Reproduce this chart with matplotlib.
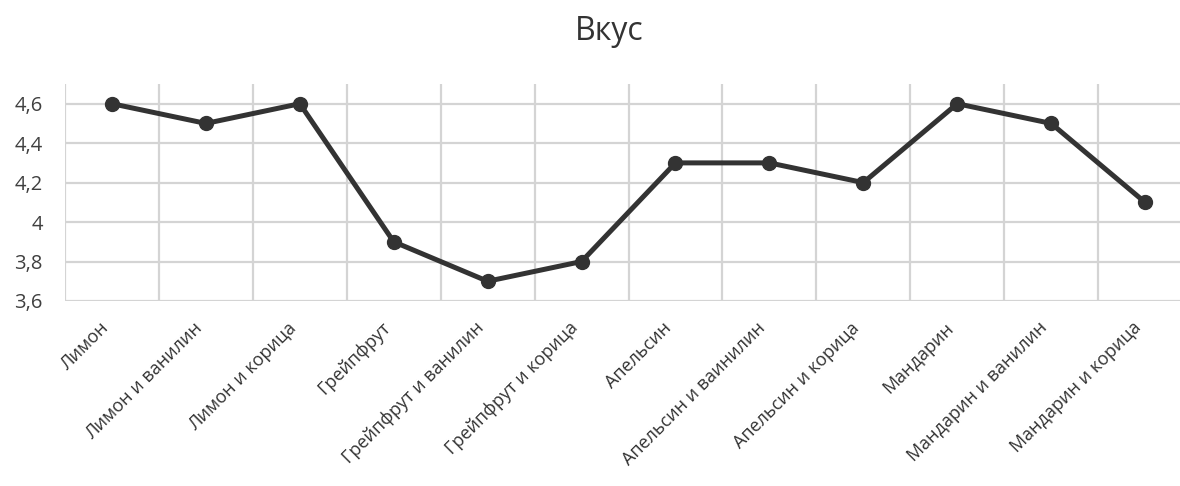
import matplotlib.pyplot as plt

plt.rcParams['font.family'] = ['Open Sans', 'DejaVu Sans']

categories = ['Лимон', 'Лимон и ванилин', 'Лимон и корица',
              'Грейпфрут', 'Грейпфрут и ванилин', 'Грейпфрут и корица',
              'Апельсин', 'Апельсин и ваинилин', 'Апельсин и корица',
              'Мандарин', 'Мандарин и ванилин', 'Мандарин и корица']
taste = [4.6, 4.5, 4.6, 3.9, 3.7, 3.8, 4.3, 4.3, 4.2, 4.6, 4.5, 4.1]
yticks = [3.6, 3.8, 4.0, 4.2, 4.4, 4.6]
ytick_labels = ['3,6', '3,8', '4', '4,2', '4,4', '4,6']

fig = plt.figure(figsize=(11.8, 4.86), dpi=100)
ax = fig.add_axes([0.0551, 0.3807, 0.9551, 0.4465])

x = list(range(len(categories)))
ax.plot(x, taste, color='#333333', lw=3.6, marker='o', ms=10,
        solid_capstyle='round', zorder=3, clip_on=False)

ax.set_xlim(-0.5, len(categories) - 0.5)
ax.set_ylim(3.6, 4.7)
ax.set_yticks(yticks)
ax.set_yticklabels(ytick_labels, fontsize=14.5, color='#404040')

# vertical gridlines between categories
ax.set_xticks([i - 0.5 for i in range(len(categories) + 1)], minor=False)
ax.set_xticklabels([])
ax.set_xticks(x, minor=True)
ax.set_xticklabels(categories, minor=True, rotation=45, ha='right', va='bottom',
                   rotation_mode='anchor', fontsize=13, color='#333333')
ax.tick_params(axis='x', which='both', length=0)
ax.tick_params(axis='x', which='minor', pad=22)
ax.tick_params(axis='y', length=0, pad=16)

ax.grid(True, which='major', color='#d4d4d4', lw=1.6)
ax.set_axisbelow(True)
for s in ax.spines.values():
    s.set_visible(False)

fig.text(0.516, 0.935, 'Вкус', ha='center', va='center', fontsize=23, color='#333333')

fig.savefig('out.png', dpi=100)
